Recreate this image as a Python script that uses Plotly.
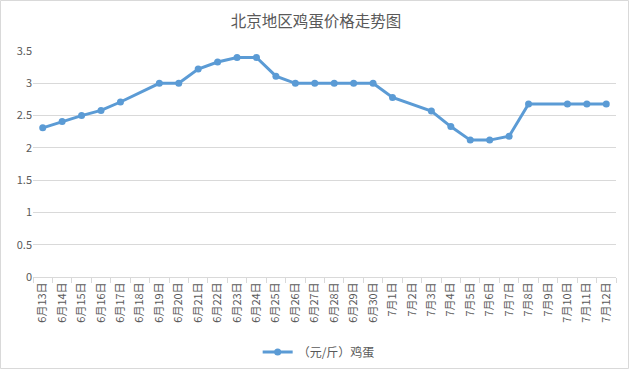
import plotly.graph_objects as go

categories = ["6月13日", "6月14日", "6月15日", "6月16日", "6月17日", "6月18日", "6月19日", "6月20日",
              "6月21日", "6月22日", "6月23日", "6月24日", "6月25日", "6月26日", "6月27日", "6月28日",
              "6月29日", "6月30日", "7月1日", "7月2日", "7月3日", "7月4日", "7月5日", "7月6日",
              "7月7日", "7月8日", "7月9日", "7月10日", "7月11日", "7月12日"]
egg_prices = [2.31, 2.41, 2.5, 2.58, 2.71, None, 3.0, 3.0,
              3.22, 3.33, 3.4, 3.4, 3.11, 3.0, 3.0, 3.0,
              3.0, 3.0, 2.78, None, 2.57, 2.33, 2.12, 2.12,
              2.18, 2.68, None, 2.68, 2.68, 2.68]
y_ticks = [0, 0.5, 1, 1.5, 2, 2.5, 3, 3.5]
y_tick_labels = ["0", "0.5", "1", "1.5", "2", "2.5", "3", "3.5"]

font_family = "Noto Sans CJK SC, Microsoft YaHei, sans-serif"
grey = "#595959"

W, H = 632, 371
L, R, T, B = 33, 16, 51, 94
pw, ph = W - L - R, H - T - B

fig = go.Figure()
fig.add_trace(go.Scatter(
    x=categories, y=egg_prices, mode="lines+markers", name="（元/斤）鸡蛋",
    connectgaps=True,
    line=dict(color="#5B9BD5", width=3),
    marker=dict(color="#5B9BD5", size=7),
))

fig.update_layout(
    width=W, height=H,
    paper_bgcolor="white", plot_bgcolor="white",
    margin=dict(l=L, r=R, t=T, b=B, autoexpand=False),
    font=dict(family=font_family, color=grey, size=11),
    title=dict(text="北京地区鸡蛋价格走势图", x=0.5, xanchor="center", y=1 - 22 / H, yanchor="middle",
               font=dict(size=15.5, color=grey, family=font_family)),
    showlegend=True,
    legend=dict(orientation="h", x=0.49, xanchor="center", y=-75 / ph, yanchor="middle",
                font=dict(size=12, color=grey), itemwidth=30),
    xaxis=dict(type="category", categoryorder="array", categoryarray=categories,
               range=[-0.5, len(categories) - 0.5], autorange=False,
               tickson="boundaries", ticks="outside", ticklen=5, tickcolor="#d9d9d9",
               showline=True, linecolor="#d9d9d9", linewidth=1, showgrid=False,
               tickangle=-90, tickfont=dict(size=11, color=grey), automargin=False),
    yaxis=dict(range=[0, 3.5], tickvals=y_ticks, ticktext=y_tick_labels,
               showgrid=True, gridcolor="#d9d9d9", gridwidth=1, zeroline=False,
               showline=False, ticks="", tickfont=dict(size=11, color=grey), automargin=False),
    shapes=[dict(type="rect", xref="paper", yref="paper", x0=-(L - 0.5) / pw, x1=1 + (R - 3.5) / pw,
                 y0=-(B - 2.5) / ph, y1=1 + (T - 0.5) / ph, line=dict(color="#d9d9d9", width=1))],
)

fig.write_html("out.html", config={"displayModeBar": False},
               post_script="document.body.style.margin='0';document.body.style.overflow='hidden';")
